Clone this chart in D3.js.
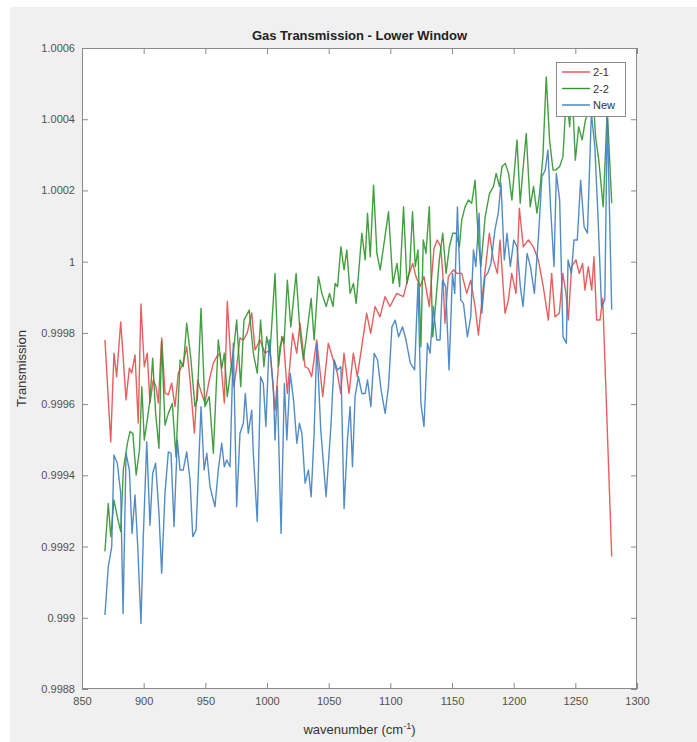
<!DOCTYPE html>
<html>
<head>
<meta charset="utf-8">
<script src="https://cdn.jsdelivr.net/npm/d3@7"></script>
<style>
  html, body { margin: 0; padding: 0; background: #ffffff; }
  svg { display: block; }
  text { font-family: "Liberation Sans", Arial, Helvetica, sans-serif; }
</style>
</head>
<body>
<svg id="chart" width="697" height="742"></svg>
<script>
// Wavenumber (cm^-1) and transmission samples for each measurement set
const wn21 = [868.6,873.3,875.9,878.1,881.4,885.7,888.4,890.3,893.0,895.6,897.8,900.5,902.9,905.1,907.8,910.0,911.9,914.6,917.3,920.0,922.7,925.4,928.1,932.1,934.9,937.6,941.1,943.8,946.5,949.7,953.2,956.5,959.2,961.9,965.4,967.8,970.6,973.2,975.4,978.1,980.8,984.0,987.6,990.3,994.3,998.4,1002.4,1006.5,1010.5,1013.2,1016.5,1020.8,1024.1,1026.8,1030.8,1033.5,1036.2,1040.3,1045.2,1049.7,1053.8,1057.0,1059.8,1062.4,1066.5,1070.0,1073.2,1076.8,1080.8,1084.1,1087.6,1091.6,1095.7,1099.7,1105.2,1110.5,1115.4,1118.1,1120.8,1124.1,1127.3,1131.6,1135.4,1138.1,1140.8,1142.5,1144.3,1147.0,1151.1,1154.3,1157.9,1161.9,1165.2,1168.7,1171.4,1175.4,1180.3,1183.5,1186.8,1188.9,1193.0,1195.7,1198.4,1201.9,1204.6,1207.8,1211.9,1215.9,1220.0,1224.0,1228.1,1230.8,1233.5,1237.0,1239.8,1242.4,1244.3,1247.0,1250.5,1253.2,1255.9,1257.8,1260.5,1263.3,1265.1,1267.3,1270.0,1272.2,1279.5];
const tr21 = [0.99978,0.999494,0.999743,0.999677,0.999831,0.999612,0.999701,0.999687,0.999738,0.999547,0.999881,0.999705,0.999743,0.999603,0.999668,0.999649,0.999603,0.999786,0.999631,0.999626,0.999659,0.999593,0.999687,0.999715,0.999761,0.999668,0.999519,0.999668,0.999635,0.999603,0.999668,0.999715,0.999733,0.999743,0.999603,0.999888,0.999724,0.999649,0.999705,0.999786,0.99978,0.9998,0.999856,0.999752,0.99978,0.999743,0.999752,0.999583,0.999761,0.999789,0.99963,0.999799,0.999743,0.999827,0.999705,0.9997,0.999677,0.99978,0.999621,0.999771,0.999724,0.999687,0.99963,0.999743,0.99963,0.999743,0.999677,0.999761,0.999855,0.999799,0.999874,0.999845,0.999902,0.999874,0.999911,0.999902,0.999967,0.999995,0.999958,0.99993,0.999958,0.999874,1.000037,1.000061,1.000042,0.999967,0.999827,0.999958,0.999977,0.999967,0.999967,0.999911,0.999948,0.999874,0.999794,0.99993,1.00008,1.000005,0.999967,1.000061,0.999855,0.999892,0.999967,0.999911,1.00015,1.000042,1.000061,1.000042,1.000005,0.99993,0.999836,0.999967,0.999845,0.999855,0.999967,0.999911,0.999836,0.999986,1.000005,0.999967,0.999995,0.99992,0.999986,0.99992,1.000014,0.999836,0.999836,0.999897,0.999172];

const wn22 = [868.6,871.3,873.3,875.9,878.6,881.4,883.5,886.8,889.0,891.2,893.9,896.6,898.5,900.5,902.9,905.1,907.3,909.7,912.4,914.6,917.3,920.0,923.2,926.2,929.5,932.1,934.9,938.1,941.6,943.5,946.5,949.7,953.2,956.5,960.5,963.3,965.4,967.8,970.6,973.2,975.4,978.7,981.3,983.5,985.6,988.9,992.1,994.8,997.5,999.8,1002.4,1006.5,1009.2,1012.0,1013.8,1016.5,1019.3,1023.6,1026.8,1029.5,1032.3,1035.8,1038.2,1041.7,1044.5,1048.0,1050.7,1053.5,1055.3,1057.2,1059.9,1062.5,1064.7,1067.4,1070.1,1072.3,1076.9,1079.6,1081.5,1083.7,1086.4,1089.1,1091.8,1094.5,1098.5,1102.1,1105.4,1107.5,1110.7,1113.5,1115.6,1118.0,1120.2,1122.4,1124.8,1126.7,1128.9,1131.6,1134.4,1137.0,1139.7,1142.5,1145.2,1147.9,1150.6,1153.3,1156.0,1157.9,1160.6,1163.3,1166.0,1168.7,1171.4,1173.4,1176.9,1180.4,1183.6,1185.8,1188.5,1190.5,1193.2,1195.9,1198.6,1202.7,1205.3,1207.5,1210.2,1213.4,1216.1,1218.9,1221.0,1223.7,1226.4,1229.1,1231.9,1233.8,1237.3,1240.0,1242.7,1245.4,1247.3,1250.0,1252.7,1255.5,1258.2,1260.9,1263.6,1266.4,1269.0,1272.6,1275.9,1279.5];
const tr22 = [0.999186,0.999321,0.999228,0.999331,0.999284,0.999242,0.999415,0.99949,0.999523,0.999518,0.999401,0.999471,0.999649,0.999499,0.999555,0.999612,0.999729,0.999574,0.999476,0.999775,0.999541,0.999574,0.999602,0.999452,0.999724,0.999705,0.999827,0.999733,0.999593,0.999612,0.999869,0.999593,0.999621,0.999462,0.99978,0.9997,0.999743,0.999621,0.999696,0.999761,0.999836,0.999649,0.999836,0.99985,0.999864,0.999743,0.999687,0.999836,0.999705,0.999789,0.999743,0.999967,0.999705,0.999789,0.999771,0.999948,0.999817,0.999967,0.999799,0.999724,0.999799,0.999897,0.99978,0.999958,0.999911,0.999874,0.999911,0.999874,0.999939,0.99993,1.000042,0.999977,1.000033,0.999911,0.999939,0.999883,1.00008,1.000005,1.000136,1.000014,1.000215,1.000023,0.999977,1.000042,1.00014,0.999939,0.999995,0.99993,1.000154,0.999939,0.999977,1.00014,0.999986,1.000033,0.999761,1.000061,1.000023,1.000154,0.999789,0.999892,1.000005,1.00008,0.999967,1.000042,1.00008,1.00008,1.000042,1.000117,1.000154,1.000173,1.000164,1.000229,1.000061,0.999986,1.000126,1.000192,1.000211,1.000248,1.000211,1.000267,1.000276,1.000248,1.000173,1.000342,1.000164,1.000257,1.00036,1.000154,1.000211,1.000136,1.000192,1.000295,1.000519,1.000342,1.000257,1.000257,1.000267,1.000295,1.000473,1.000379,1.000492,1.000285,1.000379,1.000342,1.000398,1.000426,1.00051,1.000351,1.000285,1.000154,1.000426,1.000164];

const wnNew = [868.6,871.3,874.1,875.9,878.6,881.4,883.3,885.7,888.4,890.6,893.0,895.2,897.8,899.7,902.5,905.1,907.3,909.7,912.4,914.6,917.3,920.0,922.2,924.6,927.3,929.5,932.1,934.9,937.6,939.8,942.5,946.5,949.0,951.2,953.8,957.8,960.5,963.3,965.4,967.3,970.0,972.7,975.4,978.1,980.8,982.4,984.8,987.6,988.9,992.1,994.8,997.0,999.1,1001.8,1005.1,1006.5,1008.4,1011.4,1014.1,1016.1,1018.8,1021.5,1024.2,1026.3,1028.3,1030.9,1033.6,1035.8,1038.2,1040.4,1043.6,1047.9,1051.8,1054.5,1057.1,1059.9,1062.5,1065.2,1067.4,1069.3,1071.4,1074.1,1076.9,1079.6,1081.5,1084.2,1086.9,1089.6,1092.5,1095.8,1098.5,1101.3,1104.0,1106.7,1109.9,1112.7,1116.2,1119.7,1122.4,1124.8,1127.3,1130.1,1132.2,1134.9,1137.6,1140.3,1142.3,1144.9,1147.6,1150.4,1152.2,1154.4,1157.1,1159.3,1162.5,1165.2,1167.4,1169.3,1172.0,1174.2,1176.7,1178.9,1181.6,1184.8,1187.5,1189.7,1192.4,1194.6,1197.3,1200.1,1202.7,1205.4,1207.6,1210.9,1213.6,1216.8,1220.1,1222.9,1225.6,1227.8,1229.9,1232.7,1234.6,1237.3,1240.0,1242.7,1244.1,1246.8,1248.9,1251.6,1254.3,1257.1,1259.8,1263.0,1265.8,1268.5,1271.2,1273.9,1275.9,1279.5];
const trNew = [0.999008,0.999143,0.9992,0.999457,0.999434,0.99935,0.999012,0.999462,0.999415,0.999237,0.999345,0.9992,0.998984,0.999228,0.999494,0.99926,0.999406,0.999434,0.999293,0.999125,0.99935,0.999466,0.999462,0.999256,0.999499,0.999415,0.999415,0.999466,0.999387,0.999228,0.999246,0.999593,0.999415,0.999462,0.999368,0.999312,0.999415,0.99949,0.999424,0.999443,0.999424,0.999771,0.999312,0.999518,0.999546,0.99963,0.999518,0.999583,0.999462,0.99927,0.999677,0.999658,0.999537,0.99978,0.999649,0.999499,0.999649,0.999237,0.999658,0.999499,0.999687,0.999612,0.99949,0.999546,0.999518,0.999378,0.999415,0.99934,0.999518,0.999771,0.999527,0.99934,0.999537,0.999724,0.999696,0.999705,0.999307,0.999499,0.999593,0.999424,0.999621,0.999677,0.99963,0.99963,0.999668,0.999593,0.999743,0.999724,0.99964,0.999574,0.999649,0.999817,0.999836,0.999789,0.999817,0.99978,0.999715,0.999696,0.999939,0.999602,0.999537,0.999771,0.999743,0.999874,0.99978,0.99978,0.999948,0.99993,0.999696,0.999967,0.999911,1.000154,0.999892,0.999883,0.999789,0.999845,1.000033,0.999986,1.000136,0.999855,0.999958,0.999967,0.999995,1.000089,1.000136,1.00022,1.000005,1.00008,0.999986,1.000061,1.000042,0.99993,0.999874,1.000023,0.999986,0.999911,1.00007,1.000239,1.000257,1.000314,1.000154,0.999986,1.000248,1.000173,0.999789,0.999771,1.000005,0.999967,1.000061,1.000061,1.000229,1.000098,1.00008,1.000417,1.000323,1.000117,0.999874,0.999892,1.000417,0.999865];

const seriesNames = ["2-1", "2-2", "New"];
const seriesColors = ["#e64c4c", "#2e952e", "#3f7fc0"];
const xTicks = [850, 900, 950, 1000, 1050, 1100, 1150, 1200, 1250, 1300];
const yTicks = [0.9988, 0.999, 0.9992, 0.9994, 0.9996, 0.9998, 1, 1.0002, 1.0004, 1.0006];
const yTickLabels = ["0.9988", "0.999", "0.9992", "0.9994", "0.9996", "0.9998", "1", "1.0002", "1.0004", "1.0006"];

const svg = d3.select("#chart");
const W = 697, H = 742;
const plot = { left: 82, right: 637, top: 48, bottom: 689 };

// Figure background
svg.append("rect").attr("x", 10).attr("y", 7).attr("width", W - 10).attr("height", H - 7).attr("fill", "#f0f0f0");

const x = d3.scaleLinear().domain([850, 1300]).range([plot.left, plot.right]);
const y = d3.scaleLinear().domain([0.9988, 1.0006]).range([plot.bottom, plot.top]);

// Axes area
svg.append("rect")
  .attr("x", plot.left).attr("y", plot.top)
  .attr("width", plot.right - plot.left).attr("height", plot.bottom - plot.top)
  .attr("fill", "#ffffff");

const clip = svg.append("defs").append("clipPath").attr("id", "plotClip");
clip.append("rect").attr("x", plot.left).attr("y", plot.top)
  .attr("width", plot.right - plot.left).attr("height", plot.bottom - plot.top);

// Data lines
const series = [
  { name: seriesNames[0], xs: wn21, ys: tr21, color: seriesColors[0] },
  { name: seriesNames[1], xs: wn22, ys: tr22, color: seriesColors[1] },
  { name: seriesNames[2], xs: wnNew, ys: trNew, color: seriesColors[2] }
];
const line = d3.line().x(d => x(d[0])).y(d => y(d[1]));
const gLines = svg.append("g").attr("clip-path", "url(#plotClip)");
series.forEach(s => {
  gLines.append("path")
    .datum(d3.zip(s.xs, s.ys))
    .attr("d", line)
    .attr("fill", "none")
    .attr("stroke", s.color)
    .attr("stroke-width", 1.4)
    .attr("stroke-linejoin", "round")
    .attr("opacity", 0.9);
});

// Axes with inward ticks on all four sides
const axisColor = "#8a8a8a";
const tickLen = 6;
const fmtY = (d, i) => yTickLabels[i];

const gBottom = svg.append("g").attr("transform", `translate(0,${plot.bottom})`)
  .call(d3.axisBottom(x).tickValues(xTicks).tickSizeInner(-tickLen).tickSizeOuter(0).tickPadding(8).tickFormat(d3.format("d")));
const gTop = svg.append("g").attr("transform", `translate(0,${plot.top})`)
  .call(d3.axisTop(x).tickValues(xTicks).tickSizeInner(-tickLen).tickSizeOuter(0).tickFormat(""));
const gLeft = svg.append("g").attr("transform", `translate(${plot.left},0)`)
  .call(d3.axisLeft(y).tickValues(yTicks).tickSizeInner(-tickLen).tickSizeOuter(0).tickPadding(7).tickFormat(fmtY));
const gRight = svg.append("g").attr("transform", `translate(${plot.right},0)`)
  .call(d3.axisRight(y).tickValues(yTicks).tickSizeInner(-tickLen).tickSizeOuter(0).tickFormat(""));

[gBottom, gTop, gLeft, gRight].forEach(g => {
  g.select(".domain").remove();
  g.selectAll(".tick line").attr("stroke", axisColor);
  g.selectAll(".tick text").attr("fill", "#505050").attr("font-size", 11)
    .attr("font-family", "'Liberation Sans', Arial, sans-serif");
});

// Box outline
svg.append("rect")
  .attr("x", plot.left + 0.5).attr("y", plot.top + 0.5)
  .attr("width", plot.right - plot.left - 1).attr("height", plot.bottom - plot.top - 1)
  .attr("fill", "none").attr("stroke", axisColor).attr("stroke-width", 1);

// Title and axis labels
svg.append("text")
  .attr("x", (plot.left + plot.right) / 2).attr("y", 40)
  .attr("text-anchor", "middle").attr("font-weight", "bold").attr("font-size", 13)
  .attr("fill", "#222").text("Gas Transmission - Lower Window");

svg.append("text")
  .attr("transform", `translate(26,${(plot.top + plot.bottom) / 2}) rotate(-90)`)
  .attr("text-anchor", "middle").attr("font-size", 13).attr("fill", "#333")
  .text("Transmission");

const xl = svg.append("text")
  .attr("x", (plot.left + plot.right) / 2).attr("y", 734)
  .attr("text-anchor", "middle").attr("font-size", 13).attr("fill", "#333");
xl.append("tspan").text("wavenumber (cm");
xl.append("tspan").attr("dy", -5).attr("font-size", 9).text("-1");
xl.append("tspan").attr("dy", 5).text(")");

// Legend
const lg = { x: 556, y: 62, w: 69, h: 54 };
svg.append("rect").attr("x", lg.x + 0.5).attr("y", lg.y + 0.5).attr("width", lg.w).attr("height", lg.h)
  .attr("fill", "#ffffff").attr("stroke", "#8a8a8a");
series.forEach((s, i) => {
  const yy = lg.y + 10 + i * 16.5;
  svg.append("line").attr("x1", lg.x + 6).attr("x2", lg.x + 34).attr("y1", yy).attr("y2", yy)
    .attr("stroke", s.color).attr("stroke-width", 1.4);
  svg.append("text").attr("x", lg.x + 37).attr("y", yy + 4).attr("font-size", 11)
    .attr("fill", "#333").text(s.name);
});
</script>
</body>
</html>
